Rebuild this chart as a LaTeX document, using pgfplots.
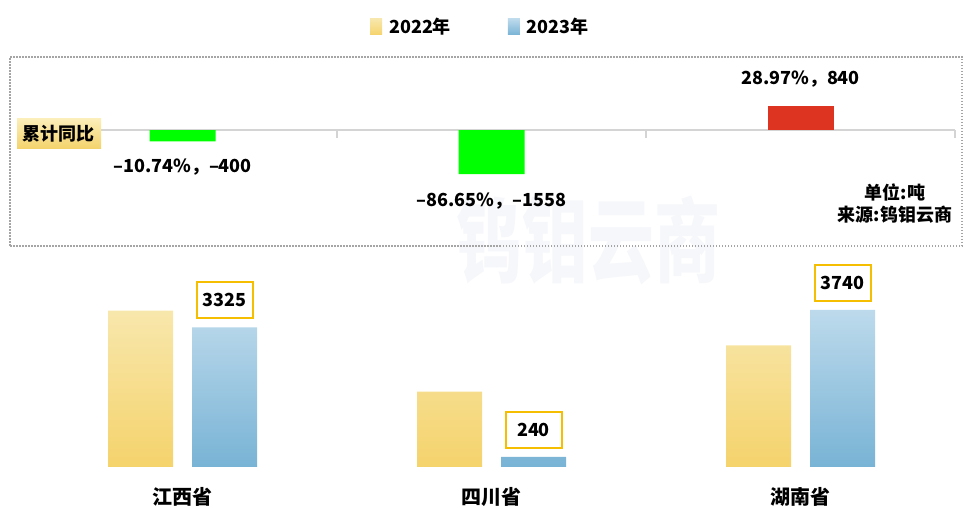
\documentclass[border=0pt]{standalone}
\usepackage{pgfplots}
\pgfplotsset{compat=1.18}
\usepackage{fontspec}
\setmainfont{Noto Sans CJK SC}
\definecolor{yA}{RGB}{248,231,172}
\definecolor{yB}{RGB}{245,211,108}
\definecolor{bA}{RGB}{189,218,236}
\definecolor{bB}{RGB}{120,179,213}
\definecolor{gbar}{RGB}{0,255,0}
\definecolor{rbar}{RGB}{221,52,34}
\definecolor{gold}{RGB}{246,190,0}
\definecolor{zline}{RGB}{212,212,212}
\definecolor{dotc}{RGB}{165,165,165}
\definecolor{wm}{RGB}{246,247,250}
\definecolor{lblA}{RGB}{252,238,185}
\definecolor{lblB}{RGB}{243,210,105}
\newcommand{\fs}[1]{\fontsize{#1}{#1}\selectfont\bfseries}
\begin{document}
\begin{tikzpicture}
\useasboundingbox (0pt,0pt) rectangle (964pt,508pt);
\node[text=wm, font=\fs{66}, yscale=1.4] at (588pt,268pt) {钨钼云商};
\draw[dotc, line width=1.5pt, dash pattern=on 1.5pt off 1.5pt] (10pt,262pt) rectangle (962pt,451pt);
\begin{axis}[at={(28pt,262pt)}, anchor=south west, scale only axis,
  width=927pt, height=189pt, xmin=-0.5, xmax=2.5, ymin=-4099, ymax=2580,
  hide axis, clip=false]
\draw[zline, line width=1.5pt] (axis cs:-0.5,0) -- (axis cs:2.5,0);
\draw[zline, line width=1.5pt] (axis cs:0.5,0) -- ++(0pt,-8pt);
\draw[zline, line width=1.5pt] (axis cs:1.5,0) -- ++(0pt,-8pt);
\draw[zline, line width=1.5pt] (axis cs:2.5,0) -- ++(0pt,-8pt);
\addplot[ybar, bar width=66pt, bar shift=0pt, draw=none, fill=gbar] coordinates {(0,-400) (1,-1558)};
\addplot[ybar, bar width=66pt, bar shift=0pt, draw=none, fill=rbar] coordinates {(2,840)};
\addplot[draw=none, mark=none, nodes near coords, point meta=explicit symbolic,
  every node near coord/.append style={anchor=center, font=\fs{18}, inner sep=0pt, text=black}]
  table[meta=label, row sep=\\] {
  x y label\\
  0 -1307 –10.74\%，–400\\
  1 -2509 –86.65\%，–1558\\
  2 1802 28.97\%，840\\
  };
\end{axis}
\node[top color=lblA, bottom color=lblB, minimum width=84pt, minimum height=30pt, inner sep=0pt, font=\fs{18}] at (59pt,374pt) {累计同比};
\node[align=center, font=\fs{18}, inner sep=0pt] at (895pt,304pt) {单位:吨\\[4pt]来源:钨钼云商};
\begin{axis}[at={(28pt,41pt)}, anchor=south west, scale only axis,
  width=927pt, height=207pt, xmin=-0.5, xmax=2.5, ymin=0, ymax=4931, clip=false,
  axis line style={draw=none}, tick style={draw=none}, ytick=\empty,
  xtick={0,1,2}, xticklabels={江西省,四川省,湖南省},
  xticklabel style={font=\fs{20}, anchor=center, yshift=-30pt},
  /pgf/number format/assume math mode=true, /pgf/number format/1000 sep={},
  legend style={at={(0.4881,2.1256)}, anchor=center, draw=none, fill=none, font=\fs{18},
    legend columns=2, /tikz/every even column/.append style={column sep=55pt}},
  legend cell align=left]
\addplot[ybar, bar width=65pt, bar shift=-42pt, draw=none, top color=yA, bottom color=yB,
  legend image code/.code={\shade[top color=yA,bottom color=yB] (0pt,-8pt) rectangle (12pt,8pt); \path (17pt,0pt);}]
  coordinates {(0,3725) (1,1798) (2,2900)};
\addlegendentry{2022年}
\addplot[ybar, bar width=65pt, bar shift=42pt, draw=none, top color=bA, bottom color=bB,
  legend image code/.code={\shade[top color=bA,bottom color=bB] (0pt,-8pt) rectangle (12pt,8pt); \path (17pt,0pt);},
  nodes near coords,
  every node near coord/.append style={draw=gold, line width=2pt, fill=white, text=black,
    minimum width=56pt, minimum height=36pt, inner sep=0pt, outer sep=0pt, xshift=42pt, yshift=9pt, font=\fs{18}}]
  coordinates {(0,3325) (1,240) (2,3740)};
\addlegendentry{2023年}
\end{axis}
\end{tikzpicture}
\end{document}
